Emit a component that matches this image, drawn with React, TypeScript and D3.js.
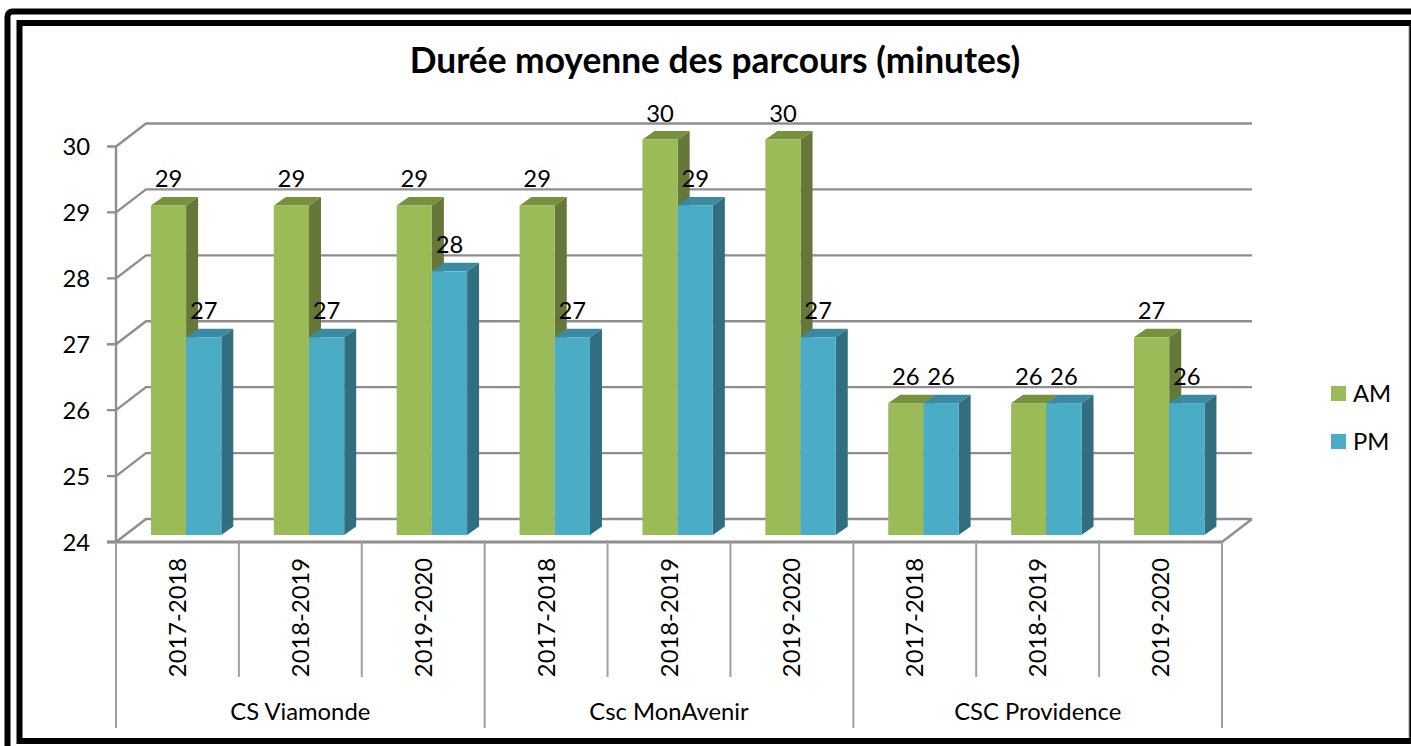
import React from "react";
import * as d3 from "d3";

const TITLE = "Durée moyenne des parcours (minutes)";
const schools = ["CS Viamonde", "Csc MonAvenir", "CSC Providence"];
const years = ["2017-2018", "2018-2019", "2019-2020"];
const amValues = [29, 29, 29, 29, 30, 30, 26, 26, 27];
const pmValues = [27, 27, 28, 27, 29, 27, 26, 26, 26];
const yTicks = [24, 25, 26, 27, 28, 29, 30];
const seriesNames = ["AM", "PM"];

const FONT = "Lato, 'Open Sans', sans-serif";
const GRID = "#8e8e8e";
const palette = {
  AM: { front: "#9BBB59", top: "#76923C", side: "#66773A" },
  PM: { front: "#4BACC6", top: "#3B8AA1", side: "#316F80" },
};

const left = 116;
const right = 1222;
const floorY = 542;
const topY = 146.5;
const wallDx = 30;
const wallDy = 23;
const barDx = 12;
const barDy = 8.5;
const barLift = 7;
const LABEL = 23.8;

const rows = d3.range(amValues.length).map((i) => ({
  i,
  key: String(i),
  year: years[i % years.length],
  am: amValues[i],
  pm: pmValues[i],
}));

const x = d3.scaleBand<string>().domain(rows.map((r) => r.key)).range([left, right]).paddingInner(0).paddingOuter(0);
const y = d3.scaleLinear().domain([24, 30]).range([floorY, topY]);
const groupX = d3.scaleBand<string>().domain(schools).range([left, right]);
const barW = 35.2;
const barInset = 34.9;

function Bar3D({ x0, value, c }: { x0: number; value: number; c: { front: string; top: string; side: string } }) {
  const t = y(value) - barLift;
  const b = floorY - barLift;
  const x1 = x0 + barW;
  const top = `M${x0},${t}L${x0 + barDx},${t - barDy}L${x1 + barDx},${t - barDy}L${x1},${t}Z`;
  const side = `M${x1},${t}L${x1 + barDx},${t - barDy}L${x1 + barDx},${b - barDy}L${x1},${b}Z`;
  return (
    <g>
      <path d={side} fill={c.side} />
      <path d={top} fill={c.top} />
      <rect x={x0} y={t} width={barW} height={b - t} fill={c.front} />
    </g>
  );
}

export default function App() {
  return (
    <svg width={1411} height={746} viewBox="0 0 1411 746" style={{ position: "fixed", left: 0, top: 0, background: "#fff" }}>
      <rect x={7.5} y={11.5} width={1450} height={800} rx={5} fill="none" stroke="#000" strokeWidth={6} />
      <rect x={19.5} y={23} width={1392.5} height={718} fill="none" stroke="#000" strokeWidth={6} />
      <line x1={1409} x2={1409} y1={26} y2={738} stroke="#999" strokeWidth={1} />
      <rect x={1410} y={26} width={1} height={712} fill="#000" />

      <text x={715} y={73} textAnchor="middle" fontFamily={FONT} fontWeight={700} fontSize={35.3} fill="#000">{TITLE}</text>

      {/* walls and gridlines */}
      <g fill="none" stroke={GRID} strokeWidth={2.4}>
        {yTicks.map((t) => (
          <path key={t} d={`M${left - 9},${y(t)}L${left},${y(t)}L${left + wallDx},${y(t) - wallDy}L${right + wallDx},${y(t) - wallDy}`} />
        ))}
        <line x1={left} x2={left} y1={topY} y2={floorY} />
        <line x1={right + wallDx} x2={right} y1={floorY - wallDy} y2={floorY} />
      </g>
      <line x1={left - 9} x2={right} y1={floorY} y2={floorY} stroke={GRID} strokeWidth={3} />

      {/* category axis */}
      <g stroke="#a0a0a0" strokeWidth={2}>
        {rows.map((r) => r.i % years.length !== 0 && (
          <line key={r.key} x1={x(r.key)!} x2={x(r.key)!} y1={floorY} y2={677} />
        ))}
        {[...schools.map((s) => groupX(s)!), right].map((gx) => (
          <line key={gx} x1={gx} x2={gx} y1={floorY} y2={728} />
        ))}
      </g>

      {/* y tick labels */}
      <g fontFamily={FONT} fontSize={LABEL} fill="#000" textAnchor="end">
        {yTicks.map((t) => (
          <text key={t} x={90} y={y(t) + 8.5}>{t}</text>
        ))}
      </g>

      {/* bars */}
      {rows.map((r) => {
        const x0 = x(r.key)! + barInset;
        return (
          <g key={r.key}>
            <Bar3D x0={x0} value={r.am} c={palette.AM} />
            <Bar3D x0={x0 + barW} value={r.pm} c={palette.PM} />
          </g>
        );
      })}

      {/* value labels */}
      <g fontFamily={FONT} fontSize={LABEL} fill="#000" textAnchor="middle">
        {rows.map((r) => {
          const x0 = x(r.key)! + barInset;
          return (
            <g key={r.key}>
              <text x={x0 + barW / 2} y={y(r.am) - barLift - 18}>{r.am}</text>
              <text x={x0 + barW * 1.5} y={y(r.pm) - barLift - 18}>{r.pm}</text>
            </g>
          );
        })}
      </g>

      {/* category labels */}
      <g fontFamily={FONT} fontSize={LABEL} fill="#000" textAnchor="middle">
        {rows.map((r) => {
          const cx = x(r.key)! + x.bandwidth() / 2;
          return (
            <text key={r.key} transform={`translate(${cx},617.5) rotate(-90)`} dy={8.5}>{r.year}</text>
          );
        })}
        {schools.map((s) => (
          <text key={s} x={groupX(s)! + groupX.bandwidth() / 2} y={719.5}>{s}</text>
        ))}
      </g>

      {/* legend */}
      {seriesNames.map((n, k) => (
        <g key={n} transform={`translate(1331,${386 + k * 48})`}>
          <rect width={15} height={15} fill={palette[n as "AM" | "PM"].front} />
          <text x={22} y={16} fontFamily={FONT} fontSize={LABEL} fill="#000">{n}</text>
        </g>
      ))}
    </svg>
  );
}
